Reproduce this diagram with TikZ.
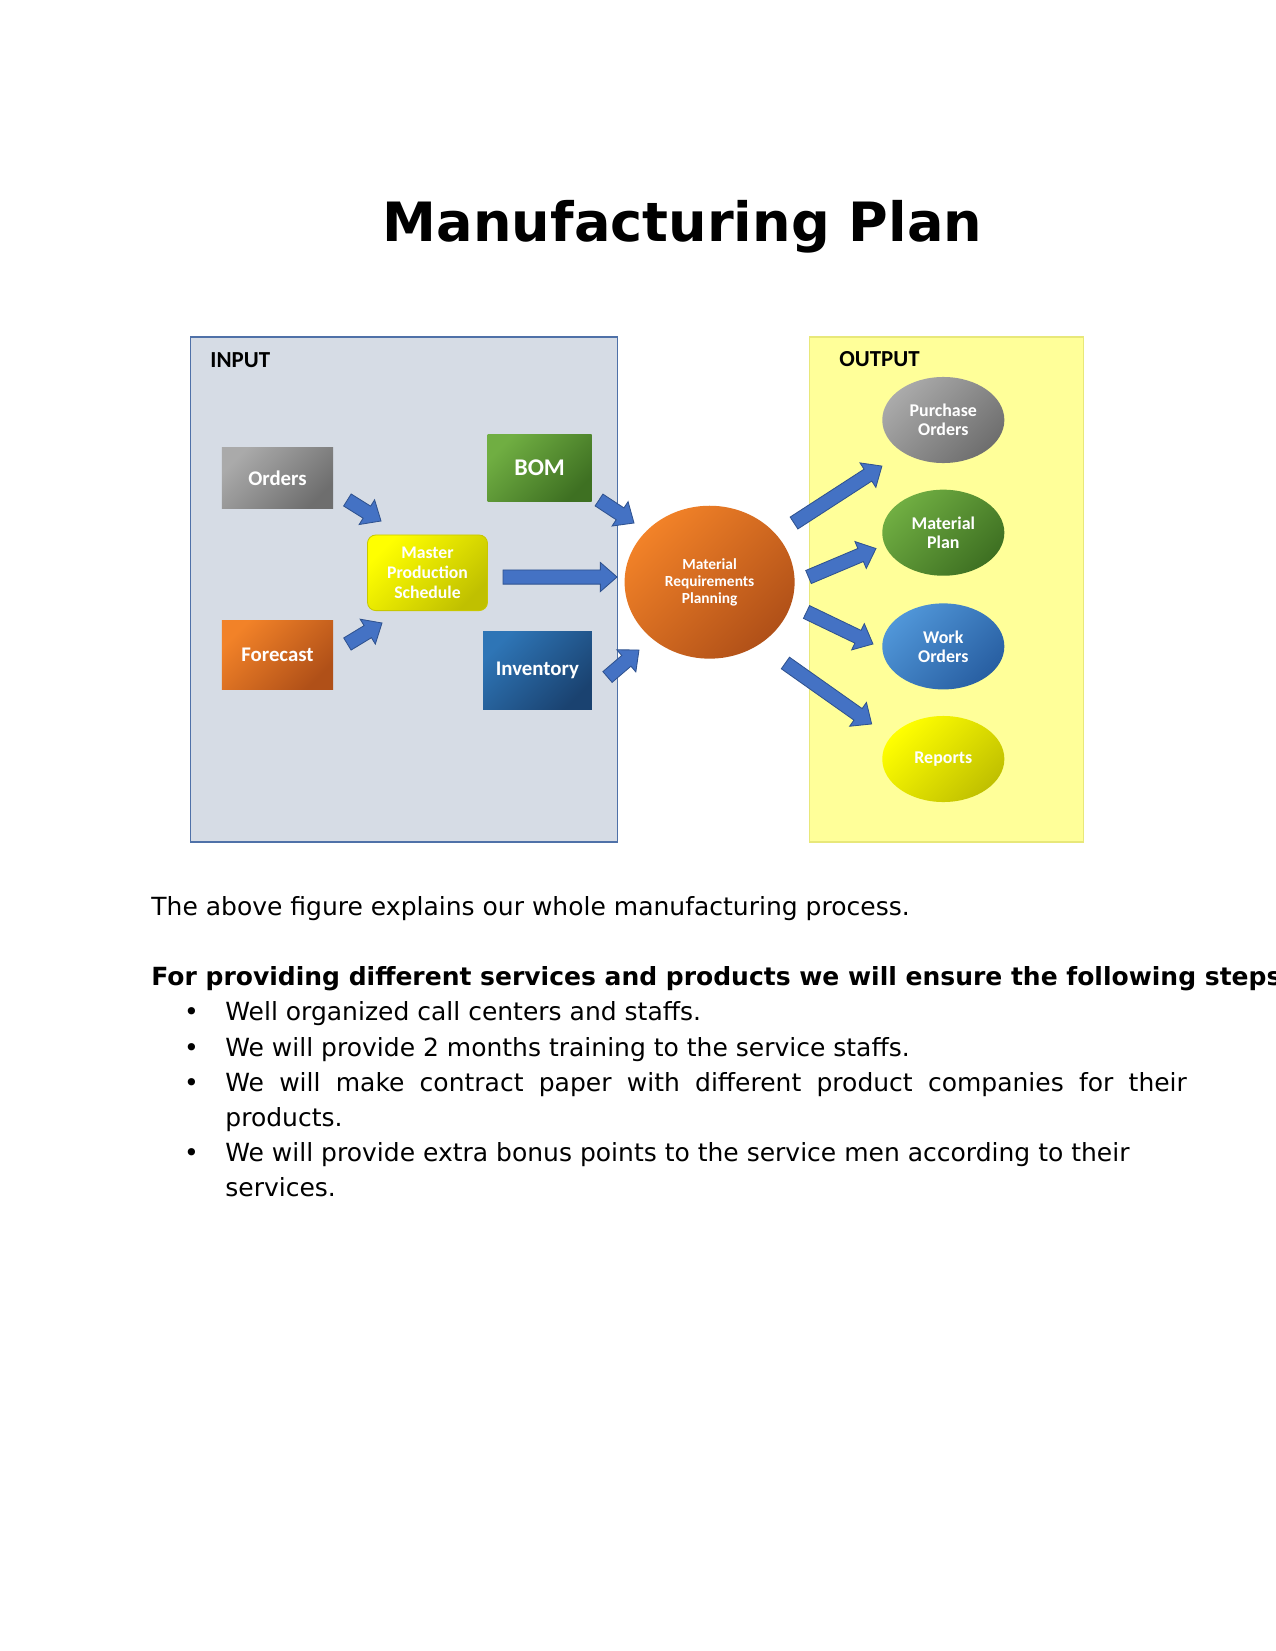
\documentclass[tikz,border=0pt]{standalone}
\usepackage{fontspec}
\setmainfont{DejaVu Sans}
\newfontfamily\carlito{Carlito}
\usetikzlibrary{calc,shapes.geometric}
\definecolor{inbg}{HTML}{D6DCE5}
\definecolor{inbd}{HTML}{4F71A8}
\definecolor{outbg}{HTML}{FFFF99}
\definecolor{outbd}{HTML}{E8E87A}
\definecolor{arrfill}{HTML}{4472C4}
\definecolor{arrbd}{HTML}{2F528F}
\definecolor{grayL}{RGB}{170,170,170}\definecolor{grayD}{RGB}{110,110,110}
\definecolor{greenL}{RGB}{112,174,66}\definecolor{greenD}{RGB}{62,112,34}
\definecolor{yelL}{RGB}{255,255,0}\definecolor{yelD}{RGB}{192,192,0}
\definecolor{yelB}{RGB}{200,200,0}
\definecolor{orL}{RGB}{242,130,40}\definecolor{orD}{RGB}{176,80,24}
\definecolor{blL}{RGB}{46,117,182}\definecolor{blD}{RGB}{26,66,112}
\definecolor{wbL}{RGB}{80,150,216}\definecolor{wbD}{RGB}{40,95,162}
\tikzset{
  blockarrow/.style={fill=arrfill,draw=arrbd,line width=0.4pt,line join=miter},
  boxtxt/.style={text=white,font=\carlito\bfseries\fontsize{10}{12}\selectfont,align=center,inner sep=0pt},
  grad/.style 2 args={top color=#1,bottom color=#2,shading angle=45},
  inbox/.style={rectangle,boxtxt},
  ell/.style={ellipse,boxtxt,minimum width=58.6pt,minimum height=41.3pt,
    font=\carlito\bfseries\fontsize{8.6}{9.2}\selectfont},
  body/.style={anchor=base west,inner sep=0pt,font=\fontsize{12}{14}\selectfont},
  bul/.style={anchor=base,inner sep=0pt,font=\fontsize{12}{14}\selectfont},
  panel/.style={anchor=west,inner sep=0pt,font=\carlito\bfseries\fontsize{11}{13}\selectfont}
}
\newcommand\barrow[2]{%
  \path let \p1=($(#2)-(#1)$) in \pgfextra{%
    \pgfmathsetmacro\baang{atan2(\y1,\x1)}%
    \pgfmathsetmacro\balen{veclen(\x1,\y1)}%
    \global\let\BAang\baang \global\let\BAlen\balen};
  \begin{scope}[shift={(#1)},rotate=\BAang]
    \draw[blockarrow] (0pt,3.4pt) -- ({\BAlen pt-8pt},3.4pt) -- ({\BAlen pt-8pt},7pt)
      -- (\BAlen pt,0pt) -- ({\BAlen pt-8pt},-7pt) -- ({\BAlen pt-8pt},-3.4pt)
      -- (0pt,-3.4pt) -- cycle;
  \end{scope}}
\begin{document}
\begin{tikzpicture}[x=0.48pt,y=-0.48pt]
\useasboundingbox (0,0) rectangle (1275,1651);
\fill[white] (0,0) rectangle (1275,1651);

% title
\node[anchor=base,inner sep=0pt,font=\bfseries\fontsize{26}{31}\selectfont] (title) at (682.5,242) {Manufacturing Plan};

% panels
\node[draw=inbd,fill=inbg,line width=0.5pt,minimum width=204.9pt,minimum height=242.4pt,inner sep=0pt] (inpanel) at (403.8,589.5) {};
\node[draw=outbd,fill=outbg,line width=0.5pt,minimum width=131.4pt,minimum height=242.4pt,inner sep=0pt] (outpanel) at (946.5,589.5) {};
\node[panel] (inlbl) at (210,360) {INPUT};
\node[panel] (outlbl) at (839,359) {OUTPUT};

% input boxes
\node[inbox,grad={grayL}{grayD},minimum width=53.3pt,minimum height=29.5pt] (orders) at (277.5,477.8) {Orders};
\node[inbox,grad={greenL}{greenD},minimum width=50pt,minimum height=31.7pt,
  font=\carlito\bfseries\fontsize{11.5}{13}\selectfont] (bom) at (539.6,468) {BOM};
\node[inbox,rounded corners=4pt,draw=yelB,line width=0.4pt,grad={yelL}{yelD},
  minimum width=57.6pt,minimum height=36.3pt,font=\carlito\bfseries\fontsize{8.5}{9.6}\selectfont] (mps) at (427.5,572.8) {Master\\Production\\Schedule};
\node[inbox,grad={orL}{orD},minimum width=53.3pt,minimum height=33.4pt] (forecast) at (277.5,654.8) {Forecast};
\node[inbox,grad={blL}{blD},minimum width=52.2pt,minimum height=37.4pt] (inventory) at (537.4,670.5) {Inventory};

% MRP
\node[ellipse,boxtxt,minimum width=81.6pt,minimum height=73.4pt,grad={orL}{orD},
  font=\carlito\bfseries\fontsize{7.4}{8.3}\selectfont] (mrp) at (709.6,582.2) {Material\\Requirements\\Planning};

% outputs
\node[ell,grad={grayL}{grayD}] (po) at (943.3,420) {Purchase\\Orders};
\node[ell,grad={greenL}{greenD}] (mp) at (943.3,532.7) {Material\\Plan};
\node[ell,grad={wbL}{wbD}] (wo) at (943.3,646.4) {Work\\Orders};
\node[ell,grad={yelL}{yelD}] (rep) at (943.3,759) {Reports};

% arrow endpoints
\coordinate (a1s) at (347.4,500);  \coordinate (a1e) at (381,521);
\coordinate (a2s) at (347.4,644);  \coordinate (a2e) at (382,623);
\coordinate (a3s) at (503,577);    \coordinate (a3e) at (617,577);
\coordinate (a4s) at (599,500);    \coordinate (a4e) at (634,523);
\coordinate (a5s) at (607.5,677);  \coordinate (a5e) at (639,650);
\coordinate (a6s) at (794,523);    \coordinate (a6e) at (882,466);
\coordinate (a7s) at (808.5,577);  \coordinate (a7e) at (876,548.5);
\coordinate (a8s) at (806.5,612);  \coordinate (a8e) at (873,644);
\coordinate (a9s) at (785.4,663);  \coordinate (a9e) at (871.7,724);
\barrow{a1s}{a1e}
\barrow{a2s}{a2e}
\barrow{a3s}{a3e}
\barrow{a4s}{a4e}
\barrow{a5s}{a5e}
\barrow{a6s}{a6e}
\barrow{a7s}{a7e}
\barrow{a8s}{a8e}
\barrow{a9s}{a9e}

% text below
\node[body] (p1) at (151,915) {The above figure explains our whole manufacturing process.};
\node[body,font=\bfseries\fontsize{12}{14}\selectfont] (p2) at (151,985.5) {For providing different services and products we will ensure the following steps};
\node[bul] (b1) at (191.6,1020) {•};
\node[body] (t1) at (225,1020) {Well organized call centers and staffs.};
\node[bul] (b2) at (191.6,1056) {•};
\node[body] (t2) at (225,1056) {We will provide 2 months training to the service staffs.};
\node[bul] (b3) at (191.6,1091) {•};
\node[body] (t3) at (225,1091) {\makebox[461.5pt][s]{We will make contract paper with different product companies for their}};
\node[body] (t3b) at (225,1126.5) {products.};
\node[bul] (b4) at (191.6,1161) {•};
\node[body] (t4) at (225,1161) {We will provide extra bonus points to the service men according to their};
\node[body] (t4b) at (225,1196) {services.};
\end{tikzpicture}
\end{document}
